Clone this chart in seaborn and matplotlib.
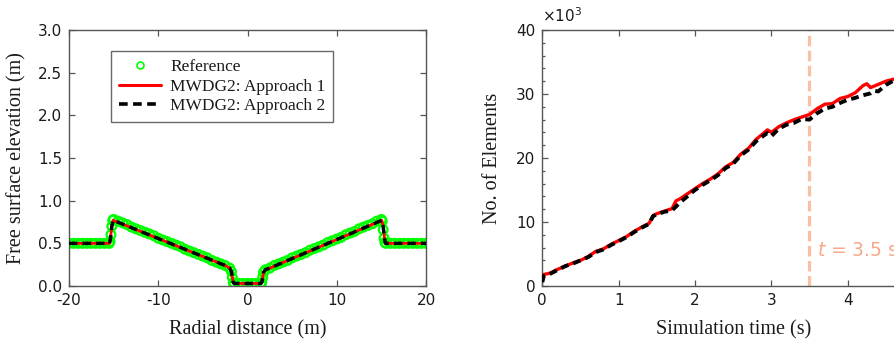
import matplotlib
matplotlib.use("Agg")
import matplotlib.pyplot as plt
from matplotlib.lines import Line2D
from matplotlib.ticker import MultipleLocator, FormatStrFormatter
import seaborn as sns

# ---------------- data: left panel (radial profile) ----------------
ref_x = [-20.0, -19.5, -19.0, -18.5, -18.0, -17.5, -17.0, -16.5, -16.0, -15.5,
         -15.4, -15.3, -15.2, -15.1, -15.0, -14.5, -14.0, -13.5, -13.0, -12.5,
         -12.0, -11.5, -11.0, -10.5, -10.0, -9.5, -9.0, -8.5, -8.0, -7.5,
         -7.0, -6.5, -6.0, -5.5, -5.0, -4.5, -4.0, -3.5, -3.0, -2.5,
         -2.0, -1.8, -1.7, -1.6, -1.5, -1.0, -0.5, 0.0, 0.5, 1.0,
         1.5, 1.6, 1.7, 1.8, 2.0, 2.5, 3.0, 3.5, 4.0, 4.5,
         5.0, 5.5, 6.0, 6.5, 7.0, 7.5, 8.0, 8.5, 9.0, 9.5,
         10.0, 10.5, 11.0, 11.5, 12.0, 12.5, 13.0, 13.5, 14.0, 14.5,
         15.0, 15.1, 15.2, 15.3, 15.4, 15.5, 16.0, 16.5, 17.0, 17.5,
         18.0, 18.5, 19.0, 19.5, 20.0]
ref_y = [0.50, 0.50, 0.50, 0.50, 0.50, 0.50, 0.50, 0.50, 0.50, 0.50,
         0.52, 0.60, 0.70, 0.77, 0.78, 0.76, 0.74, 0.72, 0.69, 0.67,
         0.65, 0.63, 0.61, 0.59, 0.56, 0.54, 0.52, 0.50, 0.48, 0.46,
         0.43, 0.41, 0.39, 0.37, 0.35, 0.33, 0.30, 0.28, 0.26, 0.24,
         0.21, 0.17, 0.10, 0.04, 0.03, 0.03, 0.03, 0.03, 0.03, 0.03,
         0.03, 0.04, 0.10, 0.16, 0.19, 0.21, 0.24, 0.26, 0.28, 0.30,
         0.33, 0.35, 0.37, 0.39, 0.42, 0.44, 0.46, 0.48, 0.51, 0.53,
         0.55, 0.57, 0.60, 0.62, 0.64, 0.67, 0.69, 0.71, 0.73, 0.76,
         0.78, 0.76, 0.66, 0.56, 0.51, 0.50, 0.50, 0.50, 0.50, 0.50,
         0.50, 0.50, 0.50, 0.50, 0.50]

app_x = [-20.0, -15.45, -15.35, -15.2, -15.05, -2.5, -2.0, -1.8, -1.7, -1.6,
         -1.5, 1.5, 1.6, 1.7, 1.8, 2.0, 2.5, 15.05, 15.2, 15.35, 15.45, 20.0]
app1_y = [0.50, 0.50, 0.56, 0.70, 0.77, 0.24, 0.21, 0.17, 0.10, 0.04,
          0.03, 0.03, 0.04, 0.10, 0.16, 0.19, 0.21, 0.77, 0.70, 0.56, 0.50, 0.50]
app2_y = [0.50, 0.50, 0.56, 0.70, 0.77, 0.24, 0.21, 0.17, 0.10, 0.04,
          0.03, 0.03, 0.04, 0.10, 0.16, 0.19, 0.21, 0.77, 0.70, 0.56, 0.50, 0.50]

# ---------------- data: right panel (element count, x10^3) ----------------
t_red = [0.00, 0.02, 0.1, 0.2, 0.3, 0.4, 0.5, 0.6, 0.7, 0.8, 0.9, 1.0, 1.1, 1.2,
         1.3, 1.4, 1.45, 1.5, 1.6, 1.7, 1.75, 1.8, 1.9, 2.0, 2.1, 2.2, 2.3, 2.4,
         2.5, 2.6, 2.7, 2.8, 2.9, 2.95, 3.0, 3.1, 3.2, 3.3, 3.4, 3.5, 3.6, 3.7,
         3.8, 3.9, 4.0, 4.1, 4.2, 4.25, 4.3, 4.4, 4.5, 4.6, 4.7, 4.8, 4.9, 5.0]
n_red = [0.8, 1.8, 2.0, 2.6, 3.1, 3.6, 4.0, 4.6, 5.4, 5.8, 6.5, 7.1, 7.7, 8.5,
         9.2, 9.8, 11.0, 11.3, 11.7, 12.1, 13.3, 13.6, 14.4, 15.2, 16.0, 16.7, 17.5, 18.6,
         19.3, 20.6, 21.5, 22.9, 23.9, 24.4, 24.0, 24.9, 25.5, 26.0, 26.4, 26.8, 27.7, 28.4,
         28.5, 29.3, 29.6, 30.2, 31.3, 31.6, 31.0, 31.5, 32.0, 32.3, 32.7, 33.1, 33.5, 33.9]
t_blk = [0.00, 0.02, 0.1, 0.2, 0.3, 0.4, 0.5, 0.6, 0.7, 0.8, 0.9, 1.0, 1.1, 1.2,
         1.3, 1.4, 1.45, 1.5, 1.6, 1.7, 1.8, 1.9, 2.0, 2.1, 2.2, 2.3, 2.4, 2.5,
         2.6, 2.7, 2.8, 2.9, 2.95, 3.0, 3.1, 3.2, 3.3, 3.4, 3.5, 3.6, 3.7, 3.8,
         3.9, 4.0, 4.1, 4.2, 4.3, 4.35, 4.4, 4.5, 4.6, 4.7, 4.8, 4.9, 5.0]
n_blk = [0.6, 1.6, 1.9, 2.5, 3.1, 3.5, 4.0, 4.5, 5.3, 5.7, 6.4, 7.0, 7.6, 8.4,
         9.1, 9.7, 10.9, 11.2, 11.6, 11.8, 13.0, 14.0, 15.0, 15.8, 16.5, 17.3, 18.4, 19.1,
         20.4, 21.3, 22.6, 23.5, 23.9, 23.4, 24.6, 25.2, 25.5, 26.1, 26.0, 27.0, 27.7, 28.0,
         28.6, 29.1, 29.4, 29.8, 30.1, 30.5, 30.4, 31.4, 32.1, 32.6, 33.0, 33.4, 33.8]

left_xticks = [-20, -10, 0, 10, 20]
left_yticks = [0.0, 0.5, 1.0, 1.5, 2.0, 2.5, 3.0]
right_xticks = [0, 1, 2, 3, 4, 5]
right_yticks = [0, 10, 20, 30, 40]
t_mark = 3.5

labels = ["Reference", "MWDG2: Approach 1", "MWDG2: Approach 2"]

# ---------------- styling ----------------
sns.set_theme(style="ticks")
plt.rcParams["font.family"] = ["DejaVu Sans"]
plt.rcParams["axes.unicode_minus"] = False
plt.rcParams["mathtext.fontset"] = "dejavusans"

SERIF = ["Liberation Serif", "DejaVu Serif"]
SPINE = "#555555"
TXT = "#1a1a1a"
GREEN = "#00ff00"
RED = "#ff0000"
SALMON_TXT = "#f9a88a"
SALMON_LN = "#f9c0a4"

fig = plt.figure(figsize=(8.94, 3.47), dpi=100)
W, H = 894.0, 347.0
axL = fig.add_axes([69 / W, (H - 286) / H, (426 - 69) / W, (286 - 30) / H])
axR = fig.add_axes([542.3 / W, (H - 286) / H, (924 - 542.3) / W, (286 - 30) / H])

def style_axes(ax):
    for s in ax.spines.values():
        s.set_color(SPINE)
        s.set_linewidth(1.0)
    ax.tick_params(which="both", direction="in", top=True, right=True,
                   color=SPINE, width=0.9, labelsize=11, labelcolor=TXT, pad=5)
    ax.tick_params(which="major", length=4)
    ax.tick_params(which="minor", length=2.5)

# ---- left panel ----
sns.scatterplot(x=ref_x, y=ref_y, ax=axL, marker="o", s=40,
                facecolor="none", edgecolor=GREEN, linewidth=1.6, zorder=2)
sns.lineplot(x=app_x, y=app1_y, ax=axL, color=RED, linewidth=2.0,
             estimator=None, sort=False, zorder=3)
sns.lineplot(x=app_x, y=app2_y, ax=axL, color="black", linewidth=2.5,
             estimator=None, sort=False, zorder=4)
axL.lines[-1].set_dashes((2.4, 1.5))

axL.set_xlim(-20, 20)
axL.set_ylim(0, 3)
axL.set_xticks(left_xticks)
axL.set_yticks(left_yticks)
axL.yaxis.set_major_formatter(FormatStrFormatter("%.1f"))
style_axes(axL)
axL.set_xlabel("Radial distance (m)", family=SERIF, fontsize=14.5, color=TXT, labelpad=9)
axL.set_ylabel("Free surface elevation (m)", family=SERIF, fontsize=14.5, color=TXT, labelpad=8)

handles = [
    Line2D([], [], linestyle="none", marker="o", markersize=5,
           markerfacecolor="none", markeredgecolor=GREEN, markeredgewidth=1.2),
    Line2D([], [], color=RED, linewidth=2.2),
    Line2D([], [], color="black", linewidth=2.6, dashes=(2.4, 1.5)),
]
leg = axL.legend(handles, labels, loc="upper left", bbox_to_anchor=(0.118, 0.918),
                 borderaxespad=0, frameon=True, fancybox=False, handlelength=2.4,
                 handletextpad=0.55, labelspacing=0.2, borderpad=0.45,
                 prop={"family": SERIF, "size": 12.5})
leg.get_frame().set_edgecolor("#444444")
leg.get_frame().set_linewidth(1.0)
for t in leg.get_texts():
    t.set_color(TXT)

# ---- right panel ----
axR.axvline(t_mark, color=SALMON_LN, linewidth=2.3, dashes=(3.3, 1.4), zorder=1)
sns.lineplot(x=t_red, y=n_red, ax=axR, color=RED, linewidth=2.4,
             estimator=None, sort=False, zorder=3)
sns.lineplot(x=t_blk, y=n_blk, ax=axR, color="black", linewidth=2.8,
             estimator=None, sort=False, zorder=4)
axR.lines[-1].set_dashes((2.0, 1.3))

axR.set_xlim(0, 5)
axR.set_ylim(0, 40)
axR.set_xticks(right_xticks)
axR.set_yticks(right_yticks)
axR.yaxis.set_minor_locator(MultipleLocator(2))
style_axes(axR)
axR.tick_params(axis="x", which="minor", bottom=False, top=False)
axR.set_xlabel("Simulation time (s)", family=SERIF, fontsize=14.5, color=TXT, labelpad=9)
axR.set_ylabel("No. of Elements", family=SERIF, fontsize=14.5, color=TXT, labelpad=10)
axR.text(0.0, 1.02, r"$\times10^3$", transform=axR.transAxes, fontsize=11,
         color=TXT, ha="left", va="bottom")
axR.text(3.6, 4.7, r"$t$ = 3.5 s", fontsize=13.5, color=SALMON_TXT,
         ha="left", va="baseline", zorder=5)

fig.savefig("out.png", dpi=100)
